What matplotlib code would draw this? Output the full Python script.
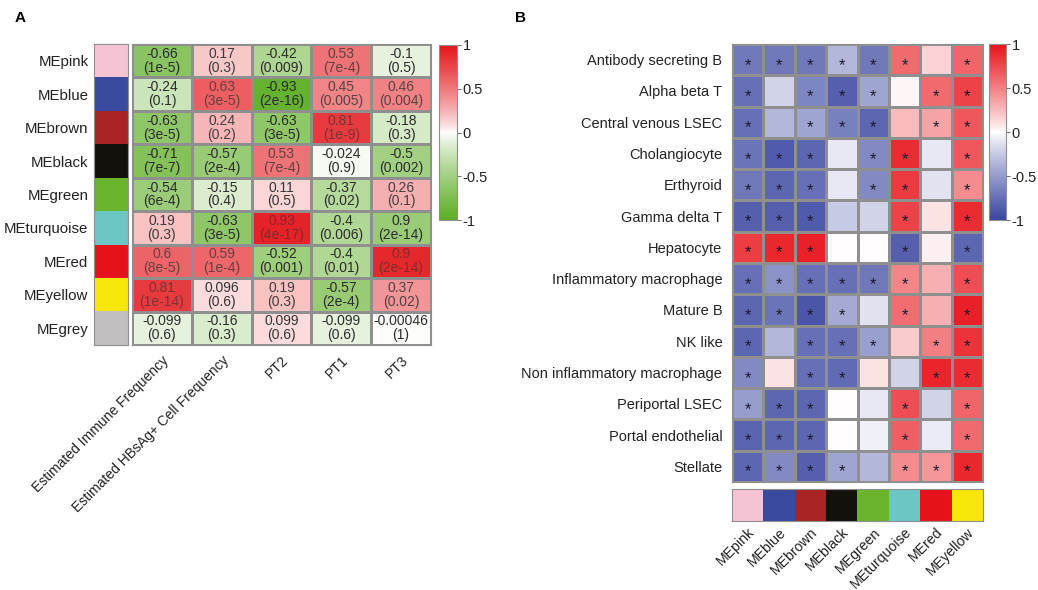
import numpy as np
import matplotlib
matplotlib.use("Agg")
import matplotlib.pyplot as plt
from matplotlib.colors import LinearSegmentedColormap, to_rgb

plt.rcParams['font.family'] = ['Liberation Sans', 'DejaVu Sans']

# ---------------- data ----------------
modules_A = ['MEpink', 'MEblue', 'MEbrown', 'MEblack', 'MEgreen',
             'MEturquoise', 'MEred', 'MEyellow', 'MEgrey']
module_colors_A = ['#f5c3d3', '#3a4a9e', '#a82424', '#14110d', '#6ab42e',
                   '#6cc6c4', '#e5121b', '#f6e60a', '#c1bfbf']
traits_A = ['Estimated Immune Frequency', 'Estimated HBsAg+ Cell Frequency',
            'PT2', 'PT1', 'PT3']
corr_A = [
    [-0.66, 0.17, -0.42, 0.53, -0.1],
    [-0.24, 0.63, -0.93, 0.45, 0.46],
    [-0.63, 0.24, -0.63, 0.81, -0.18],
    [-0.71, -0.57, 0.53, -0.024, -0.5],
    [-0.54, -0.15, 0.11, -0.37, 0.26],
    [0.19, -0.63, 0.93, -0.4, 0.9],
    [0.6, 0.59, -0.52, -0.4, 0.9],
    [0.81, 0.096, 0.19, -0.57, 0.37],
    [-0.099, -0.16, 0.099, -0.099, -0.00046],
]
pval_A = [
    ['1e-5', '0.3', '0.009', '7e-4', '0.5'],
    ['0.1', '3e-5', '2e-16', '0.005', '0.004'],
    ['3e-5', '0.2', '3e-5', '1e-9', '0.3'],
    ['7e-7', '2e-4', '7e-4', '0.9', '0.002'],
    ['6e-4', '0.4', '0.5', '0.02', '0.1'],
    ['0.3', '3e-5', '4e-17', '0.006', '2e-14'],
    ['8e-5', '1e-4', '0.001', '0.01', '2e-14'],
    ['1e-14', '0.6', '0.3', '2e-4', '0.02'],
    ['0.6', '0.3', '0.6', '0.6', '1'],
]
# fill shade as it appears in the figure where it differs from the printed value
fill_override_A = {(5, 4): -0.55}

celltypes_B = ['Antibody secreting B', 'Alpha beta T', 'Central venous LSEC',
               'Cholangiocyte', 'Erthyroid', 'Gamma delta T', 'Hepatocyte',
               'Inflammatory macrophage', 'Mature B', 'NK like',
               'Non inflammatory macrophage', 'Periportal LSEC',
               'Portal endothelial', 'Stellate']
modules_B = ['MEpink', 'MEblue', 'MEbrown', 'MEblack', 'MEgreen',
             'MEturquoise', 'MEred', 'MEyellow']
module_colors_B = ['#f5c3d3', '#3a4a9e', '#a82424', '#14110d', '#6ab42e',
                   '#6cc6c4', '#e5121b', '#f6e60a']
corr_B = [
    [-0.70, -0.70, -0.70, -0.35, -0.70, 0.60, 0.15, 0.62],
    [-0.75, -0.20, -0.62, -0.85, -0.45, 0.03, 0.60, 0.78],
    [-0.75, -0.35, -0.45, -0.65, -0.80, 0.25, 0.35, 0.68],
    [-0.72, -0.87, -0.80, -0.10, -0.60, 0.88, -0.10, 0.68],
    [-0.70, -0.80, -0.75, -0.10, -0.60, 0.82, -0.12, 0.45],
    [-0.85, -0.85, -0.87, -0.25, -0.20, 0.78, 0.10, 0.88],
    [0.80, 0.90, 0.93, 0.00, 0.00, -0.85, 0.05, -0.80],
    [-0.75, -0.55, -0.75, -0.75, -0.70, 0.48, 0.30, 0.72],
    [-0.80, -0.72, -0.90, -0.42, -0.13, 0.58, 0.30, 0.93],
    [-0.80, -0.35, -0.75, -0.75, -0.48, 0.18, 0.50, 0.85],
    [-0.60, 0.10, -0.75, -0.78, 0.10, -0.20, 0.92, 0.88],
    [-0.50, -0.80, -0.80, 0.00, -0.10, 0.72, -0.20, 0.62],
    [-0.82, -0.80, -0.80, 0.00, -0.06, 0.65, -0.08, 0.60],
    [-0.80, -0.60, -0.85, -0.45, -0.35, 0.45, 0.40, 0.90],
]
signif_B = [
    [1, 1, 1, 1, 1, 1, 0, 1],
    [1, 0, 1, 1, 1, 0, 1, 1],
    [1, 0, 1, 1, 1, 0, 1, 1],
    [1, 1, 1, 0, 1, 1, 0, 1],
    [1, 1, 1, 0, 1, 1, 0, 1],
    [1, 1, 1, 0, 0, 1, 0, 1],
    [1, 1, 1, 0, 0, 1, 0, 1],
    [1, 1, 1, 1, 1, 1, 0, 1],
    [1, 1, 1, 1, 0, 1, 0, 1],
    [1, 0, 1, 1, 1, 0, 1, 1],
    [1, 0, 1, 1, 0, 0, 1, 1],
    [1, 1, 1, 0, 0, 1, 0, 1],
    [1, 1, 1, 0, 0, 1, 0, 1],
    [1, 1, 1, 1, 0, 1, 1, 1],
]

# ---------------- figure ----------------
W, H = 1038, 590
fig = plt.figure(figsize=(W / 100, H / 100), dpi=100)


def ax_px(x0, y0, x1, y1):
    return fig.add_axes([x0 / W, 1 - y1 / H, (x1 - x0) / W, (y1 - y0) / H])


def diverging(lo, hi, gamma=0.8, n=256):
    t = np.linspace(-1, 1, n)
    s = np.sign(t) * np.abs(t) ** gamma
    lo, hi, wh = np.array(to_rgb(lo)), np.array(to_rgb(hi)), np.ones(3)
    cols = [wh + (hi - wh) * v if v >= 0 else wh + (lo - wh) * (-v) for v in s]
    return LinearSegmentedColormap.from_list('div', cols, N=n)


EDGE = '#8f8f8f'
cmap_A = diverging('#5dad25', '#e3161b', gamma=0.8)
cmap_B = diverging('#3a46a0', '#e8131a', gamma=0.9)

# ---- Panel A ----
fig.text(15 / W, 1 - 18 / H, 'A', fontsize=11, fontweight='bold', va='center')

vals_A = np.array(corr_A, dtype=float)
fill_A = vals_A.copy()
for (r, c), v in fill_override_A.items():
    fill_A[r, c] = v
nA, mA = vals_A.shape

# module colour column
axc = ax_px(94, 44, 128, 345)
strip = np.array([[to_rgb(c)] for c in module_colors_A])
axc.imshow(strip, aspect='auto', extent=(0, 1, nA, 0))
axc.set_xlim(0, 1)
axc.set_ylim(nA, 0)
axc.set_xticks([])
axc.set_yticks(np.arange(nA) + 0.5)
axc.set_yticklabels(modules_A, fontsize=10.8, color='#222222')
axc.tick_params(axis='y', length=0, pad=4)
for s in axc.spines.values():
    s.set_color(EDGE)
    s.set_linewidth(0.8)

# heatmap
axA = ax_px(132, 44, 431, 345)
meshA = axA.pcolormesh(fill_A, cmap=cmap_A, vmin=-1, vmax=1,
                       edgecolors=EDGE, linewidth=0.8)
axA.set_xlim(0, mA)
axA.set_ylim(nA, 0)
axA.set_yticks([])
axA.set_xticks(np.arange(mA) + 0.5)
axA.set_xticklabels(traits_A, rotation=45, ha='right', va='top',
                    rotation_mode='anchor', fontsize=10, color='#222222')
axA.tick_params(axis='x', length=0, pad=6)
for s in axA.spines.values():
    s.set_color(EDGE)
    s.set_linewidth(0.8)
for i in range(nA):
    for j in range(mA):
        v = fill_A[i, j]
        a = 1.0 - 0.55 * max(0.0, v)
        axA.text(j + 0.5, i + 0.5, f'{corr_A[i][j]}\n({pval_A[i][j]})',
                 ha='center', va='center', fontsize=10, linespacing=1.0,
                 color='#2b2b2b', alpha=a)

caxA = ax_px(439, 45, 457, 220)
cbA = fig.colorbar(meshA, cax=caxA, ticks=[-1, -0.5, 0, 0.5, 1])
cbA.set_ticklabels(['-1', '-0.5', '0', '0.5', '1'])
cbA.outline.set_edgecolor(EDGE)
cbA.outline.set_linewidth(0.8)
caxA.tick_params(length=3, width=0.6, color='#555555', labelsize=10.5, pad=1,
                 labelcolor='#222222')

# ---- Panel B ----
fig.text(515 / W, 1 - 18 / H, 'B', fontsize=11, fontweight='bold', va='center')

vals_B = np.array(corr_B, dtype=float)
nB, mB = vals_B.shape

axB = ax_px(732, 44, 983, 482)
meshB = axB.pcolormesh(vals_B, cmap=cmap_B, vmin=-1, vmax=1,
                       edgecolors=EDGE, linewidth=0.8)
axB.set_xlim(0, mB)
axB.set_ylim(nB, 0)
axB.set_xticks([])
axB.set_yticks(np.arange(nB) + 0.5)
axB.set_yticklabels(celltypes_B, fontsize=10.5, color='#222222')
axB.tick_params(axis='y', length=0, pad=7)
for s in axB.spines.values():
    s.set_color(EDGE)
    s.set_linewidth(0.8)
for i in range(nB):
    for j in range(mB):
        if signif_B[i][j]:
            axB.text(j + 0.5, i + 0.68, '*', ha='center', va='center',
                     fontsize=12, color='#1a1a2e')

axs = ax_px(732, 489, 983, 521)
stripB = np.array([[to_rgb(c) for c in module_colors_B]])
axs.imshow(stripB, aspect='auto', extent=(0, mB, 1, 0))
axs.set_xlim(0, mB)
axs.set_ylim(1, 0)
axs.set_yticks([])
axs.set_xticks(np.arange(mB) + 0.5)
axs.set_xticklabels(modules_B, rotation=45, ha='right', va='top',
                    rotation_mode='anchor', fontsize=10.2, color='#222222')
axs.tick_params(axis='x', length=0, pad=3)
for s in axs.spines.values():
    s.set_color(EDGE)
    s.set_linewidth(0.8)

caxB = ax_px(989, 44, 1006, 220)
cbB = fig.colorbar(meshB, cax=caxB, ticks=[-1, -0.5, 0, 0.5, 1])
cbB.set_ticklabels(['-1', '-0.5', '0', '0.5', '1'])
cbB.outline.set_edgecolor(EDGE)
cbB.outline.set_linewidth(0.8)
caxB.tick_params(length=3, width=0.6, color='#555555', labelsize=10.5, pad=1,
                 labelcolor='#222222')

fig.savefig('out.png', dpi=100)
